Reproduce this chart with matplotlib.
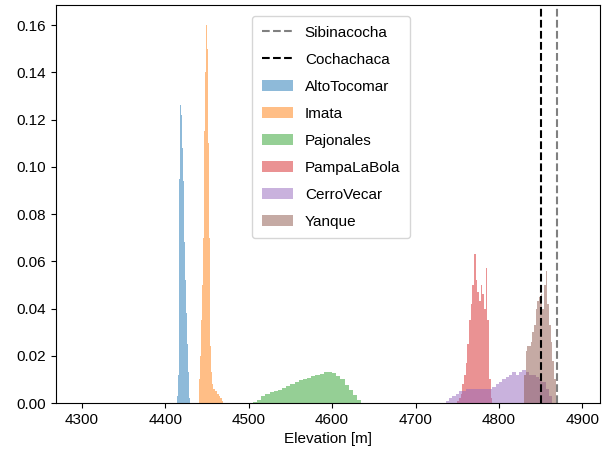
"""
Elevation distributions of the study sites, with two lake levels marked.
"""

import matplotlib
matplotlib.use('Agg')
import matplotlib.pyplot as plt
import numpy as np

# Reference elevations (vertical dashed lines)
lake_names = ['Sibinacocha', 'Cochachaca']
lake_elev = [4870, 4851]
lake_colors = ['gray', 'black']

# Histogram densities: bin start, bin width, heights
site_names = ['AltoTocomar', 'Imata', 'Pajonales', 'PampaLaBola', 'CerroVecar', 'Yanque']

alto_start, alto_width = 4414, 1
alto_vals = [0.003, 0.012, 0.045, 0.095, 0.126, 0.122, 0.108, 0.094, 0.082, 0.068,
             0.052, 0.038, 0.025, 0.013, 0.005, 0.002]

imata_start, imata_width = 4440, 1
imata_vals = [0.004, 0.010, 0.020, 0.035, 0.050, 0.070, 0.090, 0.115, 0.140, 0.160,
              0.150, 0.110, 0.070, 0.040, 0.024, 0.013, 0.008, 0.006, 0.006, 0.005,
              0.005, 0.005, 0.004, 0.004, 0.003, 0.003, 0.002, 0.002, 0.001]

pajon_start, pajon_width = 4500, 5
pajon_vals = [0.0001, 0.0006, 0.0015, 0.0028, 0.0038, 0.0045, 0.0050, 0.0055, 0.0063,
              0.0072, 0.0080, 0.0090, 0.0097, 0.0102, 0.0108, 0.0114, 0.0118, 0.0122,
              0.0130, 0.0133, 0.0128, 0.0115, 0.0100, 0.0078, 0.0055, 0.0035, 0.0012]

pampa_start, pampa_width = 4750, 2
pampa_vals = [0.001, 0.002, 0.004, 0.008, 0.012, 0.017, 0.025, 0.035, 0.042, 0.050,
              0.063, 0.052, 0.047, 0.043, 0.050, 0.046, 0.040, 0.057, 0.035, 0.010,
              0.002]

cerro_start, cerro_width = 4736, 4
cerro_vals = [0.001, 0.002, 0.003, 0.004, 0.005, 0.005, 0.006, 0.006, 0.006, 0.006,
              0.006, 0.006, 0.006, 0.006, 0.007, 0.008, 0.009, 0.010, 0.011, 0.012,
              0.013, 0.012, 0.013, 0.014, 0.013, 0.012, 0.012, 0.011, 0.010, 0.009,
              0.006, 0.003]

yanque_start, yanque_width = 4830, 2
yanque_vals = [0.012, 0.022, 0.024, 0.024, 0.026, 0.030, 0.033, 0.040, 0.043, 0.045,
               0.046, 0.040, 0.050, 0.056, 0.042, 0.033, 0.026, 0.018, 0.010, 0.003]

site_hists = [
    (alto_start, alto_width, alto_vals),
    (imata_start, imata_width, imata_vals),
    (pajon_start, pajon_width, pajon_vals),
    (pampa_start, pampa_width, pampa_vals),
    (cerro_start, cerro_width, cerro_vals),
    (yanque_start, yanque_width, yanque_vals),
]

plt.rcParams['font.family'] = ['Liberation Sans', 'DejaVu Sans']
plt.rcParams['font.size'] = 11

fig = plt.figure(figsize=(6.09, 4.57), dpi=100)
ax = fig.add_axes([0.092, 0.118, 0.893, 0.871])

# Lake levels first so they come first in the legend
for name, elev, color in zip(lake_names, lake_elev, lake_colors):
    ax.axvline(elev, color=color, linestyle='--', linewidth=1.5, label=name)

for i, (name, (start, width, vals)) in enumerate(zip(site_names, site_hists)):
    edges = start + width * np.arange(len(vals) + 1)
    ax.hist(edges[:-1], bins=edges, weights=vals, histtype='stepfilled',
            alpha=0.5, color='C%d' % i, linewidth=0, label=name)

ax.set_xlim(4269, 4921)
ax.set_ylim(0, 0.1685)
ax.set_xticks(np.arange(4300, 4901, 100))
ax.set_yticks(np.arange(0, 0.161, 0.02))
ax.set_xlabel('Elevation [m]')

ax.legend(loc='upper center', bbox_to_anchor=(0.506, 1.0), fontsize=11,
          labelspacing=0.85, borderpad=0.65, borderaxespad=0.7)

fig.savefig('out.png', dpi=100)
